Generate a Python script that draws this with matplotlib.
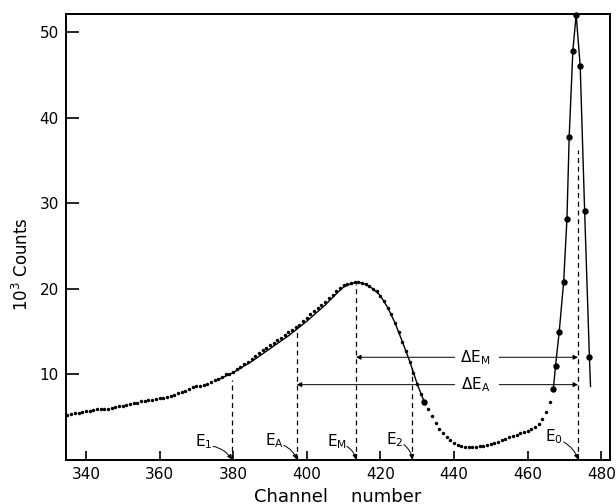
import matplotlib.pyplot as plt

plt.rcParams["font.family"] = "DejaVu Sans"
plt.rcParams["mathtext.default"] = "regular"

# measured spectrum, one point per channel (10^3 counts)
channels = list(range(335, 467))
counts = [
    5.3, 5.4, 5.5, 5.5, 5.6, 5.7, 5.7, 5.8, 5.9, 5.9,  # 335-344
    6.0, 6.0, 6.1, 6.2, 6.3, 6.3, 6.4, 6.5, 6.6, 6.7,  # 345-354
    6.9, 6.9, 7.0, 7.0, 7.1, 7.2, 7.3, 7.4, 7.5, 7.6,  # 355-364
    7.8, 7.9, 8.1, 8.3, 8.5, 8.6, 8.7, 8.8, 8.9, 9.1,  # 365-374
    9.3, 9.5, 9.7, 10.0, 10.1, 10.3, 10.6, 10.9, 11.2, 11.5,  # 375-384
    11.8, 12.1, 12.5, 12.8, 13.1, 13.4, 13.7, 14.0, 14.3, 14.6,  # 385-394
    14.9, 15.2, 15.5, 15.8, 16.2, 16.6, 17.0, 17.4, 17.8, 18.1,  # 395-404
    18.5, 18.9, 19.3, 19.7, 20.1, 20.4, 20.6, 20.7, 20.8, 20.8,  # 405-414
    20.7, 20.5, 20.3, 20.0, 19.7, 19.2, 18.6, 17.8, 17.0, 16.0,  # 415-424
    14.9, 13.8, 12.7, 11.5, 10.2, 8.9, 7.7, 6.7, 5.9, 5.1,  # 425-434
    4.3, 3.6, 3.1, 2.7, 2.3, 2.0, 1.8, 1.65, 1.55, 1.5,  # 435-444
    1.5, 1.5, 1.6, 1.65, 1.75, 1.85, 2.0, 2.15, 2.3, 2.5,  # 445-454
    2.65, 2.8, 2.95, 3.1, 3.25, 3.4, 3.6, 3.8, 4.2, 4.8,  # 455-464
    5.6, 6.8,  # 465-466
]

# elastic peak, large dots
peak_x = [467.0, 467.6, 468.6, 469.8, 470.7, 471.3, 472.3, 473.2, 474.3, 475.5, 476.8]
peak_y = [8.3, 11.0, 15.0, 20.8, 28.2, 37.7, 47.8, 52.0, 46.0, 29.1, 12.0]

# drawn curves
fit_x = [376, 378, 380, 385, 390, 395, 400, 405, 408, 410, 412, 414, 416, 418,
         420, 422, 424, 426, 428, 430, 431.9]
fit_y = [9.4, 9.8, 10.2, 11.5, 13.0, 14.5, 16.2, 18.1, 19.4, 20.2, 20.6, 20.8, 20.5, 20.0,
         19.2, 17.8, 16.0, 13.8, 11.5, 8.9, 6.8]
peak_line_x = peak_x + [477.1]
peak_line_y = peak_y + [8.6]

# energy markers: (label, channel, top of dashed line, label x, label y)
markers = [
    ("$E_1$", 379.7, 9.3, 372.0, 2.2),
    ("$E_A$", 397.3, 15.2, 391.2, 2.3),
    ("$E_M$", 413.4, 20.6, 408.3, 2.2),
    ("$E_2$", 428.7, 11.1, 423.8, 2.4),
    ("$E_0$", 473.7, 36.2, 467.2, 2.7),
]

fig = plt.figure(figsize=(6.16, 5.04), dpi=100)
ax = fig.add_axes([0.107, 0.0873, 0.883, 0.885])

ax.plot(fit_x, fit_y, color="black", lw=1.0)
ax.plot(peak_line_x, peak_line_y, color="black", lw=1.0)
ax.plot(channels, counts, "o", color="black", ms=2.5, mew=0)
ax.plot(peak_x, peak_y, "o", color="black", ms=4.6, mew=0, clip_on=False)
ax.plot([431.9], [6.8], "o", color="black", ms=4.6, mew=0)

for label, ch, top, lx, ly in markers:
    ax.plot([ch, ch], [0, top], color="black", lw=0.9, ls=(0, (4, 3)))
    ax.text(lx, ly, label, fontsize=11, ha="center", va="center")
    ax.annotate("", xy=(ch, 0.05), xytext=(lx + 2.6, ly - 0.6),
                arrowprops=dict(arrowstyle="-|>", lw=0.7, color="black",
                                mutation_scale=7, shrinkA=0, shrinkB=0,
                                connectionstyle="arc3,rad=-0.2"))

# delta arrows
for label, y, x0 in [("$\\Delta E_M$", 12.0, 413.4), ("$\\Delta E_A$", 8.8, 397.3)]:
    ax.text(445.8, y, label, fontsize=11, ha="center", va="center")
    ax.annotate("", xy=(x0, y), xytext=(440.2, y),
                arrowprops=dict(arrowstyle="-|>", lw=0.7, color="black",
                                mutation_scale=7, shrinkA=0, shrinkB=0))
    ax.annotate("", xy=(473.7, y), xytext=(452.3, y),
                arrowprops=dict(arrowstyle="-|>", lw=0.7, color="black",
                                mutation_scale=7, shrinkA=0, shrinkB=0))

ax.set_xlim(334.57, 482.35)
ax.set_ylim(0, 52.1)
ax.set_xticks(range(340, 481, 20))
ax.set_yticks([10, 20, 30, 40, 50])
ax.tick_params(axis="x", direction="in", length=6.5, width=1.2, labelsize=11, pad=5)
ax.tick_params(axis="y", direction="in", length=9.5, width=1.2, labelsize=11, pad=5)
for sp in ax.spines.values():
    sp.set_linewidth(1.4)

ax.set_xlabel("Channel    number", fontsize=13, labelpad=4)
ax.set_ylabel("10$^3$ Counts", fontsize=12, labelpad=8)
ax.yaxis.set_label_coords(-0.062, 0.44)

fig.savefig("out.png", dpi=100)
